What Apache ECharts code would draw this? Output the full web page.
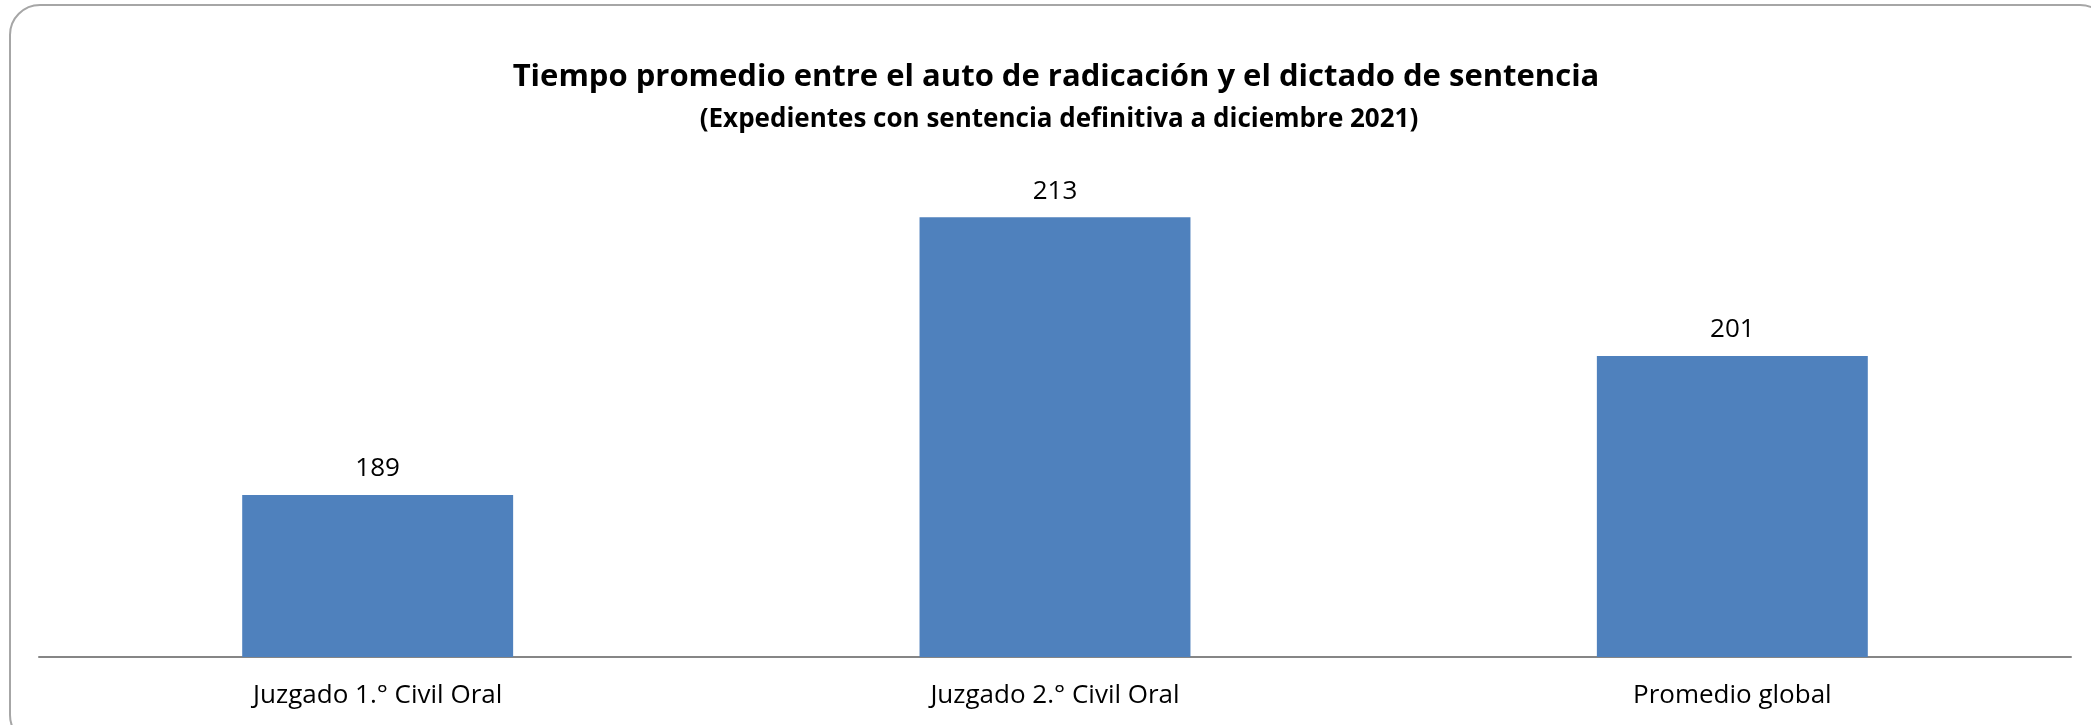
<!DOCTYPE html>
<html>
<head>
<meta charset="utf-8">
<script src="https://cdn.jsdelivr.net/npm/echarts@6/dist/echarts.min.js"></script>
<style>
html,body{margin:0;padding:0;background:#fff;}
#chart{width:2091px;height:725px;}
</style>
</head>
<body>
<div id="chart"></div>
<script>
const titleText = 'Tiempo promedio entre el auto de radicación y el dictado de sentencia';
const subtitleText = '(Expedientes con sentencia definitiva a diciembre 2021)';
const categories = ['Juzgado 1.° Civil Oral', 'Juzgado 2.° Civil Oral', 'Promedio global'];
const values = [189, 213, 201];
const axisMin = 175;
const axisMax = 215;

const chart = echarts.init(document.getElementById('chart'), null, {renderer: 'canvas'});
const font = '"Open Sans", "Noto Sans", sans-serif';
chart.setOption({
  animation: false,
  backgroundColor: '#ffffff',
  graphic: [{
    type: 'rect',
    shape: {x: 10, y: 5, width: 2100, height: 740, r: 30},
    style: {fill: 'none', stroke: '#a6a6a6', lineWidth: 2},
    silent: true
  }],
  title: [
    {text: titleText, left: 1051, textAlign: 'center', top: 57,
     textStyle: {fontFamily: font, fontWeight: 'bold', fontSize: 31, color: '#000'}},
    {text: subtitleText, left: 1054, textAlign: 'center', top: 102,
     textStyle: {fontFamily: font, fontWeight: 'bold', fontSize: 26, color: '#000'}}
  ],
  grid: {left: 39, right: 20, top: 194, bottom: 68, containLabel: false},
  xAxis: {
    type: 'category',
    data: categories,
    axisLine: {lineStyle: {color: '#868686', width: 2}},
    axisTick: {show: false},
    axisLabel: {fontFamily: font, fontSize: 26, color: '#000', margin: 26}
  },
  yAxis: {
    type: 'value', min: axisMin, max: axisMax, show: false,
    splitLine: {show: false}
  },
  series: [{
    type: 'bar',
    data: values,
    barWidth: '40%',
    itemStyle: {color: '#4f81bd'},
    label: {show: true, position: 'top', distance: 13,
            fontFamily: font, fontSize: 26, color: '#000'}
  }]
});
</script>
</body>
</html>
